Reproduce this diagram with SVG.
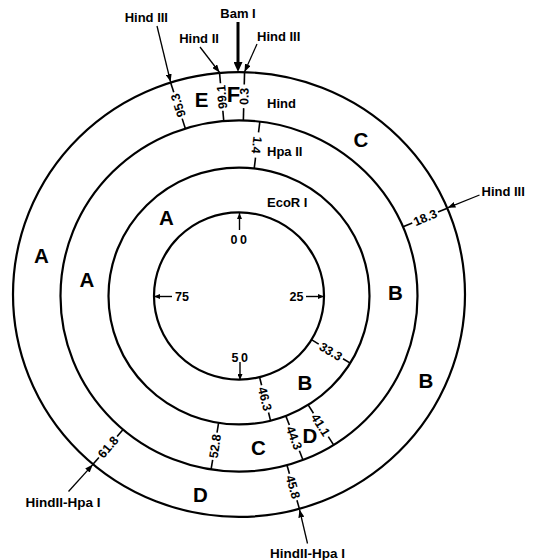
<svg xmlns="http://www.w3.org/2000/svg" width="536" height="560" viewBox="0 0 536 560">
<defs>
<style>
text{font-family:"Liberation Sans",Arial,sans-serif;font-weight:bold;fill:#000}
.ring{fill:none;stroke:#000;stroke-width:2.2}
.tk line{stroke:#000;stroke-width:1.6}
.num{font-size:12.5px;text-anchor:middle}
.frag{font-size:20.5px;text-anchor:middle}
.lbl{font-size:13px}
.arr{stroke:#000;stroke-width:1.3;fill:none;marker-end:url(#ah)}
.earr{stroke:#000;stroke-width:1.4;fill:none;marker-end:url(#as)}
</style>
<marker id="ah" viewBox="0 0 8 6" refX="8" refY="3" markerWidth="8" markerHeight="6" orient="auto" markerUnits="userSpaceOnUse"><path d="M0,0L8,3L0,6z"/></marker>
<marker id="as" viewBox="0 0 6 5" refX="6" refY="2.5" markerWidth="6" markerHeight="5" orient="auto" markerUnits="userSpaceOnUse"><path d="M0,0L6,2.5L0,5z"/></marker>
<marker id="ahb" viewBox="0 0 10 9" refX="0" refY="4.5" markerWidth="10" markerHeight="9" orient="auto" markerUnits="userSpaceOnUse"><path d="M0,0L10,4.5L0,9z"/></marker>
</defs>
<rect width="536" height="560" fill="#fff"/>

<g id="rings" transform="translate(239,296) scale(1,0.984)">
<circle class="ring" r="85"/>
<circle class="ring" r="130.5"/>
<circle class="ring" r="178.5"/>
<circle class="ring" cy="-1.5" r="226"/>
</g>

<g id="ticks" class="tk" transform="translate(239,296) scale(1,0.984)">
<g id="t95_3" transform="rotate(-17.5)"><line x1="0" y1="-178.5" x2="0" y2="-189"/><line x1="0" y1="-217" x2="0" y2="-227.4"/><text class="num" transform="translate(0,-203) rotate(-90)" dy="0.36em">95.3</text></g>
<g id="t99_1" transform="rotate(-4.9)"><line x1="0" y1="-178.5" x2="0" y2="-189"/><line x1="0" y1="-217" x2="0" y2="-227.5"/><text class="num" transform="translate(0,-203) rotate(-90)" dy="0.36em">99.1</text></g>
<g id="t0_3" transform="rotate(1.4)"><line x1="0" y1="-178.5" x2="0" y2="-191"/><line x1="0" y1="-215" x2="0" y2="-227.5"/><text class="num" transform="translate(0,-203) rotate(-90)" dy="0.36em">0.3</text></g>
<g id="t1_4" transform="rotate(6.7)"><line x1="0" y1="-130.5" x2="0" y2="-141.5"/><line x1="0" y1="-167.5" x2="0" y2="-178.5"/><text class="num" transform="translate(0,-154.5) rotate(90)" dy="0.36em">1.4</text></g>
<g id="t18_3" transform="rotate(66.8)"><line x1="0" y1="-178.5" x2="0" y2="-188.5"/><line x1="0" y1="-216.5" x2="0" y2="-226.6"/><text class="num" transform="translate(0,-202.5) rotate(-90)" dy="0.36em">18.3</text></g>
<g id="t33_3" transform="rotate(121.5)"><line x1="0" y1="-85" x2="0" y2="-93.5"/><line x1="0" y1="-122" x2="0" y2="-130.5"/><text class="num" transform="translate(0,-107.75) rotate(-90)" dy="0.36em">33.3</text></g>
<g id="t46_3" transform="rotate(166)"><line x1="0" y1="-85" x2="0" y2="-93.5"/><line x1="0" y1="-122" x2="0" y2="-130.5"/><text class="num" transform="translate(0,-107.75) rotate(-90)" dy="0.36em">46.3</text></g>
<g id="t41_1" transform="rotate(148)"><line x1="0" y1="-130.5" x2="0" y2="-140.5"/><line x1="0" y1="-168.5" x2="0" y2="-178.5"/><text class="num" transform="translate(0,-154.5) rotate(-90)" dy="0.36em">41.1</text></g>
<g id="t44_3" transform="rotate(159)"><line x1="0" y1="-130.5" x2="0" y2="-140.5"/><line x1="0" y1="-168.5" x2="0" y2="-178.5"/><text class="num" transform="translate(0,-154.5) rotate(-90)" dy="0.36em">44.3</text></g>
<g id="t45_8" transform="rotate(164.4)"><line x1="0" y1="-178.5" x2="0" y2="-187.5"/><line x1="0" y1="-215.5" x2="0" y2="-224.6"/><text class="num" transform="translate(0,-201.5) rotate(-90)" dy="0.36em">45.8</text></g>
<g id="t52_8" transform="rotate(189)"><line x1="0" y1="-130.5" x2="0" y2="-140.5"/><line x1="0" y1="-168.5" x2="0" y2="-178.5"/><text class="num" transform="translate(0,-154.5) rotate(90)" dy="0.36em">52.8</text></g>
<g id="t61_8" transform="rotate(220.5)"><line x1="0" y1="-178.5" x2="0" y2="-187.7"/><line x1="0" y1="-215.7" x2="0" y2="-224.9"/><text class="num" transform="translate(0,-201.7) rotate(90)" dy="0.36em">61.8</text></g>
</g>

<g id="connectors">
<line x1="238" y1="22" x2="238" y2="62" stroke="#000" stroke-width="3" marker-end="url(#ahb)"/>
<line class="arr" x1="200" y1="47" x2="219.6" y2="72.5"/>
<line class="arr" x1="257" y1="44" x2="244.5" y2="72"/>
<line class="arr" x1="157" y1="26" x2="170.6" y2="82"/>
<line class="arr" x1="479.5" y1="195" x2="447.5" y2="207.8"/>
<line class="arr" x1="307.5" y1="543.5" x2="299.5" y2="509.5"/>
<line class="arr" x1="68.5" y1="491.5" x2="92.8" y2="464.6"/>
<line class="earr" x1="239.5" y1="230" x2="239.5" y2="213"/>
<line class="earr" x1="306" y1="296.5" x2="324" y2="296.5"/>
<line class="earr" x1="172" y1="296.5" x2="154" y2="296.5"/>
<line class="earr" x1="240" y1="362" x2="240" y2="380"/>
</g>

<g id="site-labels" class="lbl">
<text id="bam" x="238" y="18" text-anchor="middle">Bam I</text>
<text id="hind2-top" x="199" y="43" text-anchor="middle">Hind II</text>
<text id="hind3-top-r" x="257" y="41">Hind III</text>
<text id="hind3-top-l" x="168" y="22" text-anchor="end">Hind III</text>
<text id="hind3-right" x="481.5" y="196">Hind III</text>
<text id="hh-bottom" x="307.5" y="558" text-anchor="middle" style="font-size:13.5px">HindII-Hpa I</text>
<text id="hh-left" x="63" y="506.5" text-anchor="middle" style="font-size:13.5px">HindII-Hpa I</text>
</g>

<g id="ring-labels" class="lbl">
<text id="lab-hind" x="267" y="108">Hind</text>
<text id="lab-hpa" x="267" y="155.5">Hpa II</text>
<text id="lab-eco" x="267" y="206.5">EcoR I</text>
</g>

<g id="eco-labels" class="num">
<text x="240" y="244" letter-spacing="2.5">00</text>
<text x="303.5" y="300.7" text-anchor="end">25</text>
<text x="175" y="300.7" text-anchor="start">75</text>
<text x="241" y="361.7" letter-spacing="2.5">50</text>
</g>

<g id="fragments" class="frag">
<text id="o-A" x="41.5" y="262.5">A</text>
<text id="o-B" x="426" y="387.5">B</text>
<text id="o-C" x="361" y="146.7">C</text>
<text id="o-D" x="200.5" y="502">D</text>
<text id="o-E" x="201.5" y="107">E</text>
<text id="o-F" x="233.5" y="101.5" style="font-size:22px">F</text>
<text id="m-A" x="87" y="287">A</text>
<text id="m-B" x="395.5" y="300">B</text>
<text id="m-C" x="258.3" y="455">C</text>
<text id="m-D" x="310" y="443">D</text>
<text id="i-A" x="166.5" y="225">A</text>
<text id="i-B" x="305" y="390">B</text>
</g>
</svg>
